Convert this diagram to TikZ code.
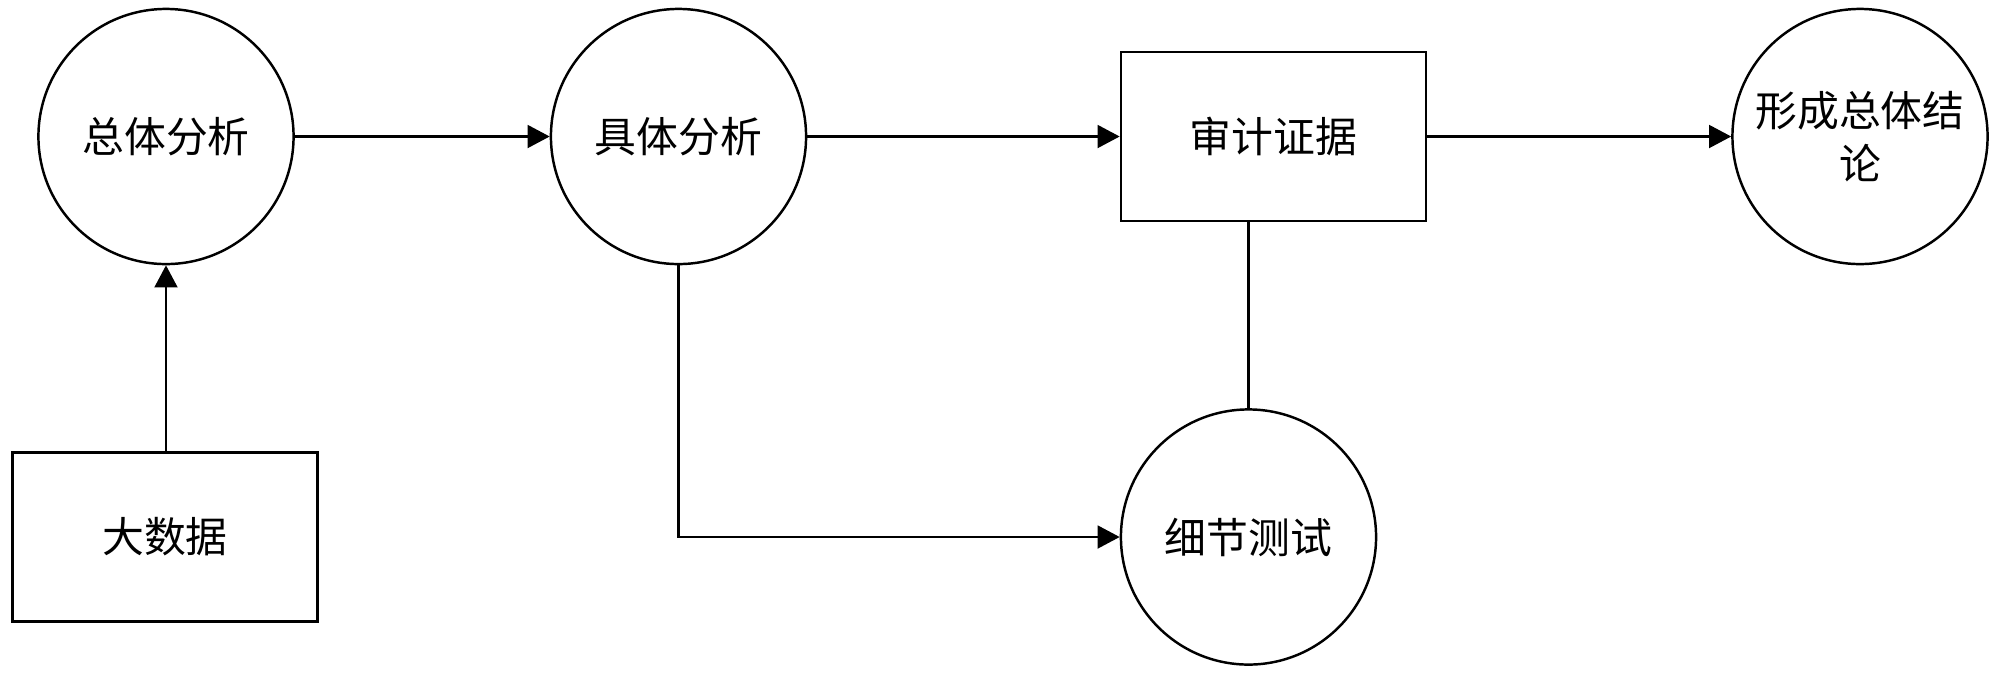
\documentclass[tikz,border=0pt]{standalone}
\usepackage{fontspec}
\setmainfont{Noto Sans CJK SC}
\usetikzlibrary{arrows.meta}
\begin{document}
\begin{tikzpicture}[x=0.01cm,y=-0.01cm,
  every node/.style={font=\fontsize{11.9}{15}\selectfont, line width=0.7pt, draw, inner sep=0pt, align=center},
  circ/.style={circle, minimum size=2.55cm},
  boxn/.style={rectangle, minimum width=3.05cm, minimum height=1.69cm},
  arr/.style={line width=0.7pt, -{Triangle[length=6.3pt,width=6.5pt]}},
  lin/.style={line width=0.7pt}]
\useasboundingbox (0,0) rectangle (2000,678);
\node[circ] (c1) at (166,136.5) {总体分析};
\node[circ] (c2) at (678.5,136.5) {具体分析};
\node[boxn] (r1) at (1273.5,136.5) {审计证据};
\node[circ] (c4) at (1860,136.5) {形成总体结\\论};
\node[boxn] (r2) at (165,537) {大数据};
\node[circ] (c5) at (1248.5,537) {细节测试};
\draw[arr] (r2.north -| c1.south) -- (c1.south);
\draw[arr] (c1.east) -- (c2.west);
\draw[arr] (c2.east) -- (r1.west);
\draw[arr] (r1.east) -- (c4.west);
\draw[arr] (c2.south) |- (c5.west);
\draw[lin] (c5.north) -- (c5.north |- r1.south);
\end{tikzpicture}
\end{document}
